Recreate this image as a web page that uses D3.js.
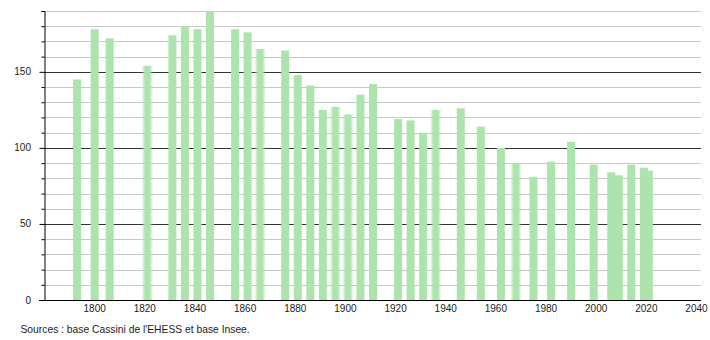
<!DOCTYPE html>
<html><head><meta charset="utf-8">
<script src="https://cdn.jsdelivr.net/npm/d3@7"></script>
<style>body{margin:0;background:#fff}svg{display:block}text{font-family:"Liberation Sans",Arial,sans-serif}</style>
</head><body>
<svg id="c" width="710" height="340"></svg>
<script>
const years = [1793,1800,1806,1821,1831,1836,1841,1846,1856,1861,1866,1876,1881,1886,1891,1896,1901,1906,1911,1921,1926,1931,1936,1946,1954,1962,1968,1975,1982,1990,1999,2006,2009,2014,2019,2021];
const population = [145,178,172,154,174,180,178,190,178,176,165,164,148,141,125,127,122,135,142,119,118,110,125,126,114,100,90,81,91,104,89,84,82,89,87,85];
const xTicks = [1800,1820,1840,1860,1880,1900,1920,1940,1960,1980,2000,2020,2040];
const yTicks = [0,50,100,150];
const sourceText = "Sources : base Cassini de l'EHESS et base Insee.";
// bars that look soft-edged in the reference image
const softYears = [1821,1866,1896,1901,1936,1968];

const svg = d3.select("#c");
const defs = svg.append("defs");
defs.append("filter").attr("id", "soft").attr("x", "-60%").attr("width", "220%")
  .append("feGaussianBlur").attr("stdDeviation", "1.3 0");

const x = d3.scaleLinear().domain([1780, 2042]).range([44, 701]);
const y = d3.scaleLinear().domain([0, 190]).range([300, 11]);
const minor = d3.range(10, 191, 10).filter(v => v % 50 !== 0);

// grid
svg.append("g").selectAll("line").data(minor).join("line")
  .attr("x1", 44).attr("x2", 701)
  .attr("y1", d => Math.round(y(d)) + 0.5).attr("y2", d => Math.round(y(d)) + 0.5)
  .attr("stroke", "#c8c8c8").attr("stroke-width", 1);
svg.append("g").selectAll("line").data(yTicks.filter(v => v > 0)).join("line")
  .attr("x1", 44).attr("x2", 701)
  .attr("y1", d => Math.round(y(d)) + 0.5).attr("y2", d => Math.round(y(d)) + 0.5)
  .attr("stroke", "#333").attr("stroke-width", 1);

// bars
const bw = 8;
svg.append("g").selectAll("rect").data(years).join("rect")
  .attr("x", (d) => x(d) - bw / 2 + 0.5)
  .attr("width", bw)
  .attr("y", (d, i) => y(population[i]))
  .attr("height", (d, i) => y(0) - y(population[i]))
  .attr("fill", "#ade3ad")
  .attr("filter", d => softYears.includes(d) ? "url(#soft)" : null);

// y axis
const yAxis = d3.axisLeft(y).tickValues(d3.range(0, 191, 10)).tickSize(3).tickFormat("");
const gy = svg.append("g").attr("transform", "translate(44.5,0)").call(yAxis);
gy.select(".domain").attr("stroke", "#000");
gy.selectAll(".tick line").attr("stroke", "#000").attr("x2", d => d % 50 === 0 ? -5 : -3);
svg.append("g").selectAll("text").data(yTicks).join("text")
  .attr("x", 31).attr("y", d => y(d) + 3.5)
  .attr("text-anchor", "end").attr("font-size", 10).attr("fill", "#222")
  .text(d => d);

// x axis
const xAxis = d3.axisBottom(x).tickValues(xTicks).tickSize(0).tickFormat(d3.format("d"));
const gx = svg.append("g").attr("transform", "translate(0,300.5)").call(xAxis);
gx.select(".domain").attr("stroke", "#000").attr("d", "M39,0H701");
gx.selectAll(".tick text").attr("font-size", 10).attr("fill", "#222").attr("dy", 0).attr("y", 11.5)
  .attr("font-family", "Liberation Sans, Arial, sans-serif");

svg.append("text").attr("x", 20.5).attr("y", 332.5).attr("font-size", 10.3).attr("fill", "#222").text(sourceText);
</script>
</body></html>
